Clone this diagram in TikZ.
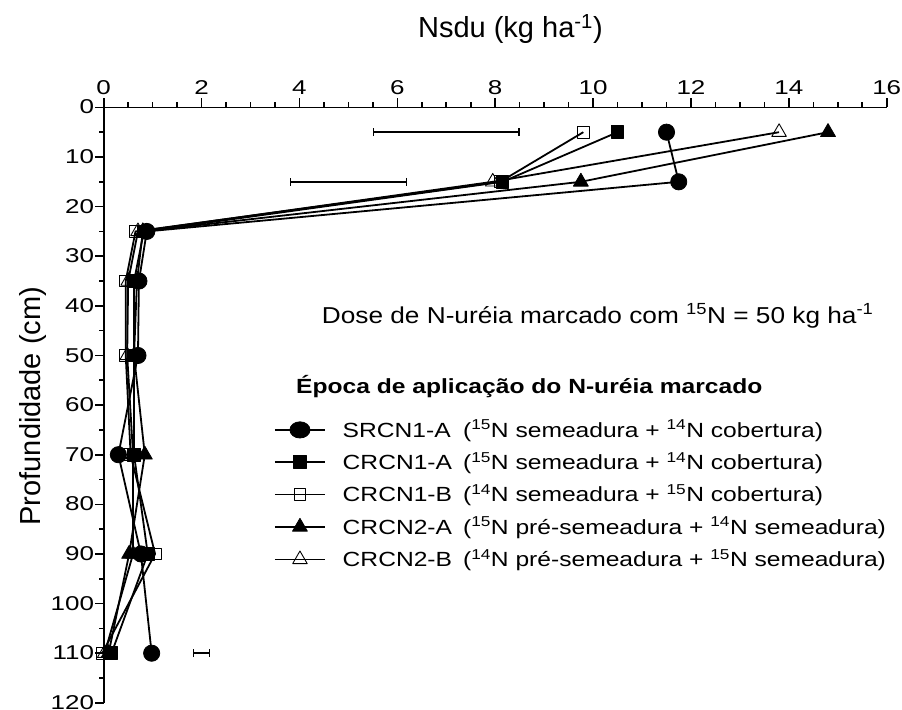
\documentclass[tikz,border=0pt]{standalone}
\usepackage{fontspec}
\setmainfont{Liberation Sans}
\newfontfamily\tickfont{Liberation Sans}[FakeStretch=1.3]
\newfontfamily\labfont{Liberation Sans}[FakeStretch=1.2]
\newfontfamily\dosefont{Liberation Sans}[FakeStretch=1.14]
\usetikzlibrary{plotmarks,arrows.meta}

\tikzset{
  axline/.style={line width=1.6pt},
  dline/.style={line width=1.8pt, line join=round},
  ebar/.style={line width=1.4pt, {Bar[width=8pt]}-{Bar[width=8pt]}},
  ticklab/.style={inner sep=0pt, font=\tickfont\fontsize{20}{24}\selectfont},
  lab/.style={inner sep=0pt, font=\labfont\fontsize{20.5}{24}\selectfont},
  mcirc/.style={mark=*, mark size=8.1pt, mark options={solid, line width=0.8pt}},
  mqfill/.style={mark=square*, mark size=6.3pt, mark options={solid, line width=0.8pt}},
  mqopen/.style={mark=square, mark size=5.9pt, mark options={solid, line width=0.9pt}},
  mtfill/.style={mark=triangle*, mark size=8.6pt, mark options={solid, line width=0.8pt}},
  mtopen/.style={mark=triangle, mark size=8.4pt, mark options={solid, line width=0.9pt}}
}

\begin{document}
\begin{tikzpicture}[x=48.94pt, y=-4.962pt]
    \useasboundingbox (-2.119,-21.64) rectangle (16.312,121.44);
    % axes
    \draw[axline] (0,120) -- (0,0) -- (16,0);
    \foreach \v in {0,0.5,...,16} \draw[axline] (\v,0) -- ++(0pt,5pt);
    \foreach \v in {0,2,...,16} {
        \draw[axline] (\v,0) -- ++(0pt,9pt);
        \node[ticklab, anchor=base, yshift=13pt] (xl\v) at (\v,0) {\v};
    }
    \foreach \v in {0,5,...,120} \draw[axline] (0,\v) -- ++(-5pt,0pt);
    \foreach \v in {0,10,...,120} {
        \draw[axline] (0,\v) -- ++(-9pt,0pt);
        \node[ticklab, anchor=base east, xshift=-9.5pt, yshift=-6.6pt] (yl\v) at (0,\v) {\v};
    }
    \node[inner sep=0pt, anchor=base, font=\fontsize{29}{34}\selectfont] (xtitle) at (8.31,-14.05) {Nsdu (kg ha\textsuperscript{-1})};
    \node[inner sep=0pt, anchor=base, rotate=90, font=\fontsize{29}{34}\selectfont] (ytitle) at (-1.30,60.2) {Profundidade (cm)};
    % error bars
    \draw[ebar] (5.5,5) -- (8.5,5);
    \draw[ebar] (3.8,15) -- (6.2,15);
    \draw[ebar] (1.82,110) -- (2.18,110);
    % data
    \draw[dline, mtopen] plot coordinates {(13.8,5) (7.95,15) (0.70,25) (0.50,35) (0.48,50) (0.60,70) (0.60,90) (0.02,110)};
    \draw[dline, mqopen] plot coordinates {(9.8,5) (8.10,15) (0.65,25) (0.45,35) (0.45,50) (0.55,70) (1.05,90) (-0.03,110)};
    \draw[dline, mtfill] plot coordinates {(14.8,5) (9.75,15) (0.80,25) (0.68,35) (0.62,50) (0.84,70) (0.52,90) (0.10,110)};
    \draw[dline, mqfill] plot coordinates {(10.5,5) (8.15,15) (0.82,25) (0.62,35) (0.62,50) (0.62,70) (0.90,90) (0.16,110)};
    \draw[dline, mcirc] plot coordinates {(11.5,5) (11.75,15) (0.88,25) (0.72,35) (0.70,50) (0.30,70) (0.76,90) (0.98,110)};
    % texts
    \node[lab, anchor=base west, font=\dosefont\fontsize{23}{27}\selectfont] (dose) at (4.455,43.5) {Dose de N-uréia marcado com \textsuperscript{15}N = 50 kg ha\textsuperscript{-1}};
    \node[lab, anchor=base west, font=\labfont\bfseries\fontsize{20.5}{24}\selectfont] (epoca) at (3.93,57.76) {Época de aplicação do N-uréia marcado};
    % legend
    \draw[dline, mcirc, mark indices={2}, every mark/.append style={xscale=1.24}] plot coordinates {(3.5,65.0) (4.01,65.0) (4.52,65.0)};
    \draw[dline, mqfill, mark indices={2}] plot coordinates {(3.5,71.5) (4.01,71.5) (4.52,71.5)};
    \draw[dline, mqopen, mark indices={2}] plot coordinates {(3.5,78.0) (4.01,78.0) (4.52,78.0)};
    \draw[dline, mtfill, mark indices={2}] plot coordinates {(3.5,84.55) (4.01,84.55) (4.52,84.55)};
    \draw[dline, mtopen, mark indices={2}] plot coordinates {(3.5,91.1) (4.01,91.1) (4.52,91.1)};
    \node[lab, anchor=base west] (nome1) at (4.88,66.49) {SRCN1-A};
    \node[lab, anchor=base west] (nome2) at (4.88,73.0) {CRCN1-A};
    \node[lab, anchor=base west] (nome3) at (4.88,79.46) {CRCN1-B};
    \node[lab, anchor=base west] (nome4) at (4.88,86.03) {CRCN2-A};
    \node[lab, anchor=base west] (nome5) at (4.88,92.56) {CRCN2-B};
    \node[lab, anchor=base west] (trat1) at (7.34,66.49) {(\textsuperscript{15}N semeadura + \textsuperscript{14}N cobertura)};
    \node[lab, anchor=base west] (trat2) at (7.34,73.0) {(\textsuperscript{15}N semeadura + \textsuperscript{14}N cobertura)};
    \node[lab, anchor=base west] (trat3) at (7.34,79.46) {(\textsuperscript{14}N semeadura + \textsuperscript{15}N cobertura)};
    \node[lab, anchor=base west] (trat4) at (7.34,86.03) {(\textsuperscript{15}N pré-semeadura + \textsuperscript{14}N semeadura)};
    \node[lab, anchor=base west] (trat5) at (7.34,92.56) {(\textsuperscript{14}N pré-semeadura + \textsuperscript{15}N semeadura)};
\end{tikzpicture}
\end{document}
